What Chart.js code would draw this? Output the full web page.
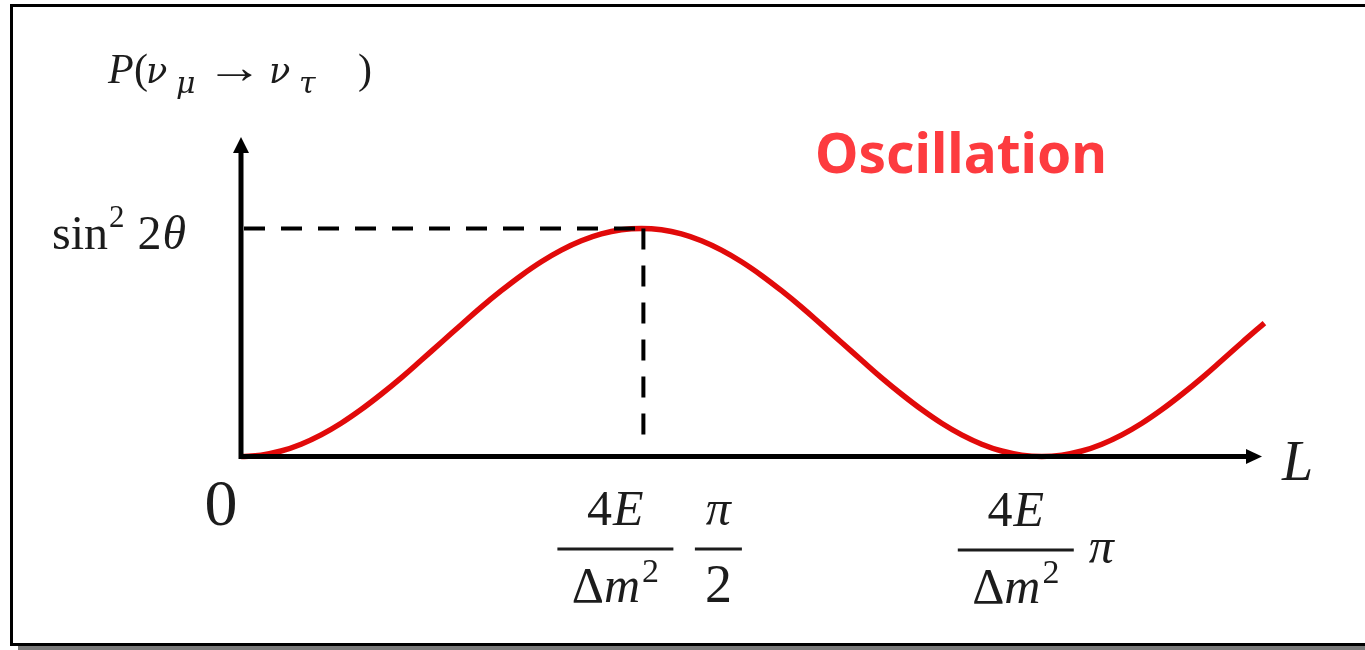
<!DOCTYPE html>
<html>
<head>
<meta charset="utf-8">
<title>Oscillation</title>
<script src="https://cdn.jsdelivr.net/npm/chart.js@4/dist/chart.umd.min.js"></script>
<style>
  html, body { margin: 0; padding: 0; background: #ffffff; }
  #oscChart { display: block; }
</style>
</head>
<body>
<canvas id="oscChart" width="1365" height="650"></canvas>
<script>
// distance L, in units of 4E/Δm² · π
const lValues = [0, 0.025, 0.05, 0.075, 0.1, 0.125, 0.15, 0.175, 0.2, 0.225, 0.25,
  0.275, 0.3, 0.325, 0.35, 0.375, 0.4, 0.425, 0.45, 0.475, 0.5,
  0.525, 0.55, 0.575, 0.6, 0.625, 0.65, 0.675, 0.7, 0.725, 0.75,
  0.775, 0.8, 0.825, 0.85, 0.875, 0.9, 0.925, 0.95, 0.975, 1,
  1.025, 1.05, 1.075, 1.1, 1.125, 1.15, 1.175, 1.2, 1.225, 1.25, 1.278];
// P(νμ → ντ), in units of sin² 2θ
const probValues = [0, 0.006, 0.024, 0.054, 0.095, 0.146, 0.206, 0.273, 0.345, 0.422, 0.5,
  0.578, 0.655, 0.727, 0.794, 0.854, 0.905, 0.946, 0.976, 0.994, 1,
  0.994, 0.976, 0.946, 0.905, 0.854, 0.794, 0.727, 0.655, 0.578, 0.5,
  0.422, 0.345, 0.273, 0.206, 0.146, 0.095, 0.054, 0.024, 0.006, 0,
  0.006, 0.024, 0.054, 0.095, 0.146, 0.206, 0.273, 0.345, 0.422, 0.5, 0.585];
// marked positions on the L axis: 0, half period, full period
const lTicks = [0, 0.5, 1];
// first maximum of the curve
const peakL = [0.5];
const peakP = [1];

const lMax = 1.275;
const pMax = 1.401;
const curveRed = "#e10a0a";
const ink = "#1c1c1c";
const serif = '"Liberation Serif", "DejaVu Serif", serif';
const greek = '"DejaVu Serif", serif';

function rm(size) { return size + "px " + serif; }
function it(size) { return "italic " + size + "px " + serif; }
function gk(size) { return "italic " + size + "px " + greek; }

// draw a run of text pieces, each {t, f, dx, dy, sx}
function runWidth(ctx, parts) {
  let w = 0;
  parts.forEach(function (p) {
    ctx.font = p.f;
    w += (p.dx || 0) + ctx.measureText(p.t).width * (p.sx || 1);
  });
  return w;
}
function drawRun(ctx, parts, x, y, align) {
  let cx = x;
  if (align === "center") cx = x - runWidth(ctx, parts) / 2;
  parts.forEach(function (p) {
    ctx.font = p.f;
    cx += p.dx || 0;
    const sx = p.sx || 1;
    ctx.save();
    ctx.translate(cx, y + (p.dy || 0));
    ctx.scale(sx, 1);
    ctx.fillText(p.t, 0, 0);
    ctx.restore();
    cx += ctx.measureText(p.t).width * sx;
  });
}

function drawFraction(ctx, cx, barY, barW, top, bottom) {
  drawRun(ctx, top.parts, cx, barY - 24, "center");
  drawRun(ctx, bottom.parts, cx, barY + 53, "center");
  ctx.fillRect(cx - barW / 2, barY - 1.5, barW, 3);
}

const diagramDecor = {
  id: "diagramDecor",
  beforeDraw(chart) {
    const ctx = chart.ctx;
    ctx.save();
    // frame with drop shadow
    ctx.fillStyle = "#7a7a7a";
    ctx.fillRect(18, 11, 1400, 639);
    ctx.fillStyle = "#ffffff";
    ctx.fillRect(11.5, 5.5, 1400, 639);
    ctx.strokeStyle = "#000000";
    ctx.lineWidth = 3;
    ctx.strokeRect(11.5, 5.5, 1400, 639);
    ctx.restore();
  },
  afterDatasetsDraw(chart) {
    const ctx = chart.ctx;
    const xs = chart.scales.x;
    const ys = chart.scales.y;
    const x0 = xs.getPixelForValue(0);
    const y0 = ys.getPixelForValue(0);
    const xEnd = xs.getPixelForValue(lMax);
    const yTop = ys.getPixelForValue(pMax);
    const px = xs.getPixelForValue(peakL[0]);
    const py = ys.getPixelForValue(peakP[0]);

    ctx.save();
    // dashed guides to the first maximum
    ctx.strokeStyle = "#000000";
    ctx.lineWidth = 4;
    ctx.setLineDash([21, 16]);
    ctx.beginPath();
    ctx.moveTo(x0 + 3, py);
    ctx.lineTo(px - 4, py);
    ctx.stroke();
    ctx.beginPath();
    ctx.moveTo(px + 2, py);
    ctx.lineTo(px + 2, y0 - 18);
    ctx.stroke();
    ctx.setLineDash([]);

    // axes with arrow heads
    ctx.lineWidth = 5;
    ctx.beginPath();
    ctx.moveTo(x0, y0 + 2.5);
    ctx.lineTo(x0, yTop + 14);
    ctx.moveTo(x0 - 2.5, y0);
    ctx.lineTo(xEnd - 14, y0);
    ctx.stroke();
    ctx.fillStyle = "#000000";
    ctx.beginPath();
    ctx.moveTo(x0, yTop);
    ctx.lineTo(x0 - 8, yTop + 16);
    ctx.lineTo(x0 + 8, yTop + 16);
    ctx.closePath();
    ctx.fill();
    ctx.beginPath();
    ctx.moveTo(xEnd, y0);
    ctx.lineTo(xEnd - 16, y0 - 7.5);
    ctx.lineTo(xEnd - 16, y0 + 7.5);
    ctx.closePath();
    ctx.fill();

    // axis titles
    ctx.fillStyle = ink;
    ctx.textBaseline = "alphabetic";
    const title = [
      { t: "P", f: it(42), x: 108 },
      { t: "(", f: rm(42), x: 134 },
      { t: "ν", f: gk(35), x: 146 },
      { t: "μ", f: gk(30), x: 176, dy: 10 },
      { t: "→", f: rm(46), x: 206, sx: 1.25 },
      { t: "ν", f: gk(35), x: 269 },
      { t: "τ", f: gk(30), x: 299, dy: 10 },
      { t: ")", f: rm(42), x: 358 },
    ];
    title.forEach(function (p) {
      drawRun(ctx, [{ t: p.t, f: p.f, dy: p.dy, sx: p.sx }], p.x, 83, "left");
    });
    drawRun(ctx, [{ t: "L", f: it(56) }], xEnd + 20, 480, "left");

    // level of the maximum
    drawRun(ctx, [
      { t: "sin", f: rm(48) },
      { t: "2", f: rm(31), dx: 1, dy: -22 },
      { t: "2", f: rm(48), dx: 13 },
      { t: "θ", f: it(48), dx: 1 },
    ], 52, py + 21, "left");

    // L axis marks
    const t0 = xs.getPixelForValue(lTicks[0]);
    const t1 = xs.getPixelForValue(lTicks[1]);
    const t2 = xs.getPixelForValue(lTicks[2]);
    drawRun(ctx, [{ t: "0", f: rm(66) }], t0 - 20, 525, "center");

    const num = { parts: [{ t: "4", f: rm(50) }, { t: "E", f: it(50), dx: 1 }] };
    const den = { parts: [{ t: "Δ", f: rm(50) }, { t: "m", f: it(50) }, { t: "2", f: rm(34), dx: 2, dy: -20 }] };
    drawFraction(ctx, t1 - 26, 549, 116, num, den);
    drawFraction(ctx, t1 + 77, 549, 47,
      { parts: [{ t: "π", f: it(50) }] },
      { parts: [{ t: "2", f: rm(54) }] });
    drawFraction(ctx, t2 - 26, 550, 116, num, den);
    drawRun(ctx, [{ t: "π", f: it(50) }], t2 + 47, 563, "left");

    // annotation
    ctx.fillStyle = "#fd3b3f";
    ctx.font = 'bold 55px "Noto Sans", "DejaVu Sans", sans-serif';
    ctx.fillText("Oscillation", 815, 173);
    ctx.restore();
  },
};

const oscCanvas = document.getElementById("oscChart");
const oscChart = new Chart(oscCanvas, {
  type: "scatter",
  data: {
    datasets: [
      {
        label: "P",
        data: lValues.map((l, i) => ({ x: l, y: probValues[i] })),
        showLine: true,
        borderColor: curveRed,
        borderWidth: 5.5,
        pointRadius: 0,
        tension: 0.4,
        borderCapStyle: "butt",
        clip: false,
      },
    ],
  },
  options: {
    responsive: false,
    animation: false,
    devicePixelRatio: 1,
    layout: { padding: { left: 241, right: 103, top: 137, bottom: 193.5 } },
    plugins: { legend: { display: false }, tooltip: { enabled: false } },
    scales: {
      x: { type: "linear", display: false, min: 0, max: lMax },
      y: { type: "linear", display: false, min: 0, max: pMax },
    },
  },
  plugins: [diagramDecor],
});
</script>
</body>
</html>
